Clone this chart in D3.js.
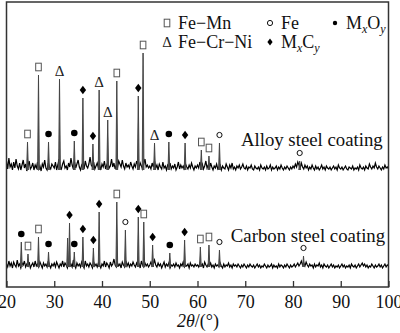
<!DOCTYPE html>
<html><head><meta charset="utf-8">
<script src="https://cdn.jsdelivr.net/npm/d3@7"></script>
<style>body{margin:0;background:#fff}svg{display:block}</style>
</head><body>
<svg id="c" width="400" height="333"></svg>
<script>
// ---- data ----
const xTicks = [20,30,40,50,60,70,80,90,100];
// background counts (a.u., uniform step from 20 to 100 deg)
const alloyNoise = [12,4,15,6,9,3,11,5,14,7,4,10,3,8,13,5,9,2,7,12,4,6,10,3,8,5,11,4,7,2,9,6,13,5,3,10,6,4,9,7,
5,11,3,8,14,6,4,9,12,5,7,3,10,6,15,8,4,11,5,9,13,6,3,8,10,4,12,7,5,9,16,8,6,11,4,7,10,5,8,3,
9,6,12,4,8,11,5,7,14,6,10,4,8,5,12,9,6,13,7,4,10,6,8,5,11,7,4,9,6,12,8,5,10,7,4,9,14,6,8,5,
7,4,10,6,12,5,8,3,9,6,4,11,5,7,3,8,6,10,4,7,5,9,3,6,11,4,8,5,7,3,9,6,4,8,5,10,6,3,7,5,
8,5,11,6,9,4,7,12,5,8,4,10,6,3,7,5,9,4,6,8,3,7,5,4,9,6,3,8,5,10,4,6,3,7,5,8,4,6,9,5,
4,7,3,6,5,8,4,3,7,5,4,6,3,8,5,4,6,3,7,4,5,8,3,6,4,5,7,3,6,4,8,5,3,6,4,7,5,3,6,4,
7,5,9,6,11,8,5,10,6,4,8,5,7,3,6,4,8,5,3,7,4,6,3,5,8,4,6,3,7,5,4,6,3,5,7,4,6,3,8,5,
4,6,3,5,7,4,3,6,5,4,7,3,5,4,6,3,8,5,4,6,3,7,5,4,9,6,4,7,5,10,6,4,7,5,3,6,4,8,5,6,4];
const carbonNoise = [6,3,9,4,7,2,8,5,3,10,4,6,2,7,5,9,3,6,4,8,2,5,7,3,9,4,6,3,8,5,2,7,4,6,3,9,5,2,6,4,
7,3,8,5,2,6,4,9,3,7,5,2,8,4,6,3,10,5,2,7,4,6,3,8,5,2,9,4,6,3,7,5,2,8,4,6,3,7,5,2,
6,4,9,3,7,5,2,8,4,6,11,5,3,7,4,6,2,8,5,3,9,4,7,3,6,4,8,5,3,7,4,6,2,9,5,3,7,4,6,3,
5,8,4,6,10,5,3,7,4,6,2,5,8,3,6,4,7,2,5,4,6,3,7,4,5,2,6,4,8,3,5,4,6,2,7,4,5,3,6,4,
5,3,7,4,6,2,8,5,3,6,4,7,3,5,2,6,4,5,3,7,4,2,6,3,5,4,7,3,5,2,6,4,5,3,6,4,2,5,3,6,
4,2,5,3,6,4,3,5,2,4,6,3,5,2,4,3,6,4,2,5,3,4,6,2,5,3,4,2,6,3,5,4,2,5,3,6,4,2,5,3,
4,6,3,5,7,4,6,9,5,7,4,8,5,3,6,4,5,2,6,3,5,4,7,3,5,2,6,4,3,5,2,4,6,3,5,2,4,3,5,2,
4,6,3,5,2,4,3,5,2,6,4,3,5,2,4,6,3,5,7,4,6,3,5,2,4,3,6,4,2,5,3,4,6,3,5,2,4,6,3,5,4];
// peaks: position (2theta), height above background, phase
const alloyPeakTheta  = [24.4,26.7,28.8,31.1,34.2,36.0,38.1,39.4,41.2,43.1,47.6,48.6,51.0,54.0,57.4,60.8,62.4,64.6,81.4];
const alloyPeakHeight = [31,98,31,94,32,75,29,83,53,92,77,120,30,31,30,23,17,30,12];
const alloyPeakPhase  = ["FeMn","FeMn","MO","FeCrNi","MO","MC","MC","FeCrNi","FeCrNi","FeMn","MC","FeMn","FeCrNi","MO","MC","FeMn","FeMn","Fe","Fe"];
const carbonPeakTheta  = [23.1,24.5,26.7,28.8,32.8,33.2,34.2,36.0,38.2,39.4,43.1,44.9,47.6,48.75,50.6,54.2,57.3,60.6,62.4,64.6,82.2];
const carbonPeakHeight = [28,16,33,18,32,47,18,33,22,58,68,40,53,48,25,17,30,23,25,20,14];
const carbonPeakPhase  = ["MO","FeMn","FeMn","MO","","MC","MO","MC","MC","MC","FeMn","Fe","MC","FeMn","MC","MO","MC","FeMn","FeMn","Fe","Fe"];
const alloyOffset = 114, carbonOffset = 17;
const sampleLabels = ["Alloy steel coating","Carbon steel coating"];

// ---- layout ----
const svg = d3.select("#c");
const FONT = "'Liberation Serif','Times New Roman',serif";
const x = d3.scaleLinear().domain([20,100]).range([6.5,388.5]);
const y = d3.scaleLinear().domain([0,285]).range([287,2]);

function noisePts(arr, off){
  const step = 80/(arr.length-1);
  return arr.map((v,i)=>[20+i*step, off+v]);
}
const line = d3.line().x(d=>x(d[0])).y(d=>y(d[1]));

function drawTrace(noise, off, th, hh, ph){
  svg.append("path").attr("d", line(noisePts(noise, off)))
    .attr("fill","none").attr("stroke","#000").attr("stroke-width",1.2);
  th.forEach((t,i)=>{
    const pts = [[t-0.18, off+3],[t, off+hh[i]],[t+0.18, off+3]];
    svg.append("path").attr("d", line(pts)).attr("fill","#555")
      .attr("stroke","#444").attr("stroke-width",1);
    if (ph[i]) marker(ph[i], x(t), y(off+hh[i]) - 8);
  });
}

function marker(kind, cx, cy, small){
  const g = svg.append("g").attr("transform",`translate(${cx},${cy})`);
  if (kind==="FeMn"){
    g.append("rect").attr("x",-2.8).attr("y",-3.8).attr("width",5.6).attr("height",7.6)
      .attr("fill","#fff").attr("stroke","#555").attr("stroke-width",1);
  } else if (kind==="FeCrNi"){
    g.append("text").text("Δ").attr("text-anchor","middle").attr("y",5)
      .attr("font-family",FONT).attr("font-size",15).attr("fill","#222");
  } else if (kind==="MO"){
    g.append("circle").attr("r", small?2.2:3.3).attr("fill","#000");
  } else if (kind==="MC"){
    const w = small?2.6:3.2, h = small?3.4:4.2;
    g.append("path").attr("d",`M0,${-h}L${w},0L0,${h}L${-w},0Z`).attr("fill","#000");
  } else if (kind==="Fe"){
    g.append("circle").attr("r",2.6).attr("fill","#fff").attr("stroke","#111").attr("stroke-width",1);
  }
}

drawTrace(alloyNoise, alloyOffset, alloyPeakTheta, alloyPeakHeight, alloyPeakPhase);
drawTrace(carbonNoise, carbonOffset, carbonPeakTheta, carbonPeakHeight, carbonPeakPhase);

// sample labels
svg.append("text").text(sampleLabels[0]).attr("x",x(98.8)).attr("y",y(alloyOffset+27))
  .attr("text-anchor","end").attr("font-family",FONT).attr("font-size",18.8).attr("fill","#111");
svg.append("text").text(sampleLabels[1]).attr("x",x(99.3)).attr("y",y(carbonOffset+28))
  .attr("text-anchor","end").attr("font-family",FONT).attr("font-size",18.8).attr("fill","#111");

// frame
svg.append("rect").attr("x",x(20)).attr("y",y(285)).attr("width",x(100)-x(20)).attr("height",y(0)-y(285))
  .attr("fill","none").attr("stroke","#333").attr("stroke-width",1.5);

// axis
const ax = svg.append("g").attr("transform",`translate(0,${y(0)})`)
  .call(d3.axisBottom(x).tickValues(xTicks).tickSizeInner(-6).tickSizeOuter(0).tickPadding(8));
ax.select(".domain").remove();
ax.selectAll("line").attr("stroke","#333").attr("stroke-width",1.3);
ax.selectAll("text").attr("font-family",FONT).attr("font-size",18).attr("fill","#111");

// axis title
const tt = svg.append("text").attr("x",198).attr("y",327).attr("text-anchor","middle")
  .attr("font-family",FONT).attr("font-size",18).attr("fill","#111");
tt.append("tspan").attr("font-style","italic").text("2θ");
tt.append("tspan").text("/(°)");

// legend
const legend = [
  {k:"FeMn", x:167, y:23, t:[["Fe−Mn"]]},
  {k:"Fe", x:270, y:23, t:[["Fe"]]},
  {k:"MO", x:335, y:23, t:[["M"],["x","sub"],["O"],["y","sub"]]},
  {k:"FeCrNi", x:167, y:42, t:[["Fe−Cr−Ni"]]},
  {k:"MC", x:270, y:42, t:[["M"],["x","sub"],["C"],["y","sub"]]}
];
legend.forEach(l=>{
  marker(l.k, l.x, l.y, true);
  const te = svg.append("text").attr("x", l.x+11).attr("y", l.y+6)
    .attr("font-family",FONT).attr("font-size",18).attr("fill","#111");
  l.t.forEach(p=>{
    const s = te.append("tspan").text(p[0]);
    if (p[1]==="sub") s.attr("font-style","italic").attr("font-size",12).attr("dy",4);
    else if (te.selectAll("tspan").size()>1) s.attr("dy",-4);
  });
});
</script>
</body></html>
